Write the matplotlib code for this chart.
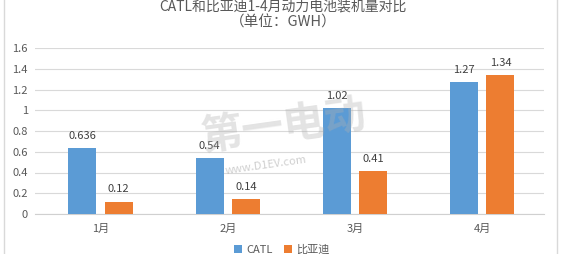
import matplotlib
matplotlib.use("Agg")
import matplotlib.pyplot as plt
from matplotlib.patches import Rectangle
import numpy as np

plt.rcParams['font.family'] = ['Noto Sans CJK SC', 'DejaVu Sans']

months = ["1月", "2月", "3月", "4月"]
catl = [0.636, 0.54, 1.02, 1.27]
byd = [0.12, 0.14, 0.41, 1.34]
catl_labels = ["0.636", "0.54", "1.02", "1.27"]
byd_labels = ["0.12", "0.14", "0.41", "1.34"]
series_names = ["CATL", "比亚迪"]
yticks = [0, 0.2, 0.4, 0.6, 0.8, 1.0, 1.2, 1.4, 1.6]
ytick_labels = ["0", "0.2", "0.4", "0.6", "0.8", "1", "1.2", "1.4", "1.6"]

blue = "#5B9BD5"
orange = "#ED7D31"
text_gray = "#595959"

W, H = 567, 254
fig = plt.figure(figsize=(W / 100, H / 100), dpi=100)
fig.patch.set_facecolor("white")

# outer chart frame
fig.patches.append(Rectangle((4 / W, -0.05), 553 / W, 1.2, transform=fig.transFigure,
                             fill=False, edgecolor="#d9d9d9", linewidth=1.0))

ax = fig.add_axes([35 / W, 1 - 214 / H, 509 / W, (214 - 48) / H])
x = np.arange(len(months))
bw = 0.22
gap = 0.065
b1 = ax.bar(x - (bw + gap) / 2 + 0.015, catl, bw, color=blue, label=series_names[0], zorder=3)
b2 = ax.bar(x + (bw + gap) / 2 + 0.015, byd, bw, color=orange, label=series_names[1], zorder=3)

for rect, lab in zip(b1, catl_labels):
    ax.text(rect.get_x() + rect.get_width() / 2, rect.get_height() + 0.07, lab,
            ha="center", va="bottom", fontsize=8, color="#404040", zorder=4)
for rect, lab in zip(b2, byd_labels):
    ax.text(rect.get_x() + rect.get_width() / 2, rect.get_height() + 0.07, lab,
            ha="center", va="bottom", fontsize=8, color="#404040", zorder=4)

ax.set_xlim(-0.5, len(months) - 0.5)
ax.set_ylim(0, 1.6)
ax.set_yticks(yticks)
ax.set_yticklabels(ytick_labels)
ax.set_xticks(x + 0.015)
ax.set_xticklabels(months)
ax.tick_params(axis="both", length=0, labelsize=8, colors=text_gray)
ax.tick_params(axis="y", pad=5)
ax.tick_params(axis="x", pad=7)
ax.grid(axis="y", color="#d9d9d9", linewidth=0.8, zorder=0)
for side in ["left", "right", "top"]:
    ax.spines[side].set_visible(False)
ax.spines["bottom"].set_color("#d0d0d0")
ax.spines["bottom"].set_linewidth(0.8)
ax.set_facecolor("none")

# watermark
fig.text(0.50, 0.50, "第一电动", fontsize=30, fontweight="bold", style="italic",
         color="#b0b0b0", alpha=0.35, ha="center", va="center", rotation=8, zorder=10)
fig.text(0.47, 0.35, "www.D1EV.com", fontsize=8, style="italic",
         color="#a0a0a0", alpha=0.5, ha="center", va="center", rotation=8, zorder=10)

# title
fig.text(283 / W, 1 - 7 / H, "CATL和比亚迪1-4月动力电池装机量对比", fontsize=10,
         color=text_gray, ha="center", va="center")
fig.text(283 / W, 1 - 23 / H, "（单位：GWH）", fontsize=10.5,
         color=text_gray, ha="center", va="center")

# legend at bottom
fig.legend(handles=[b1, b2], labels=series_names, loc="center", ncol=2,
           bbox_to_anchor=(282 / W, 1 - 250 / H), frameon=False, fontsize=8,
           handlelength=0.7, handleheight=0.7, columnspacing=1.0, handletextpad=0.4,
           labelcolor=text_gray)

fig.savefig("out.png", dpi=100, facecolor="white")
